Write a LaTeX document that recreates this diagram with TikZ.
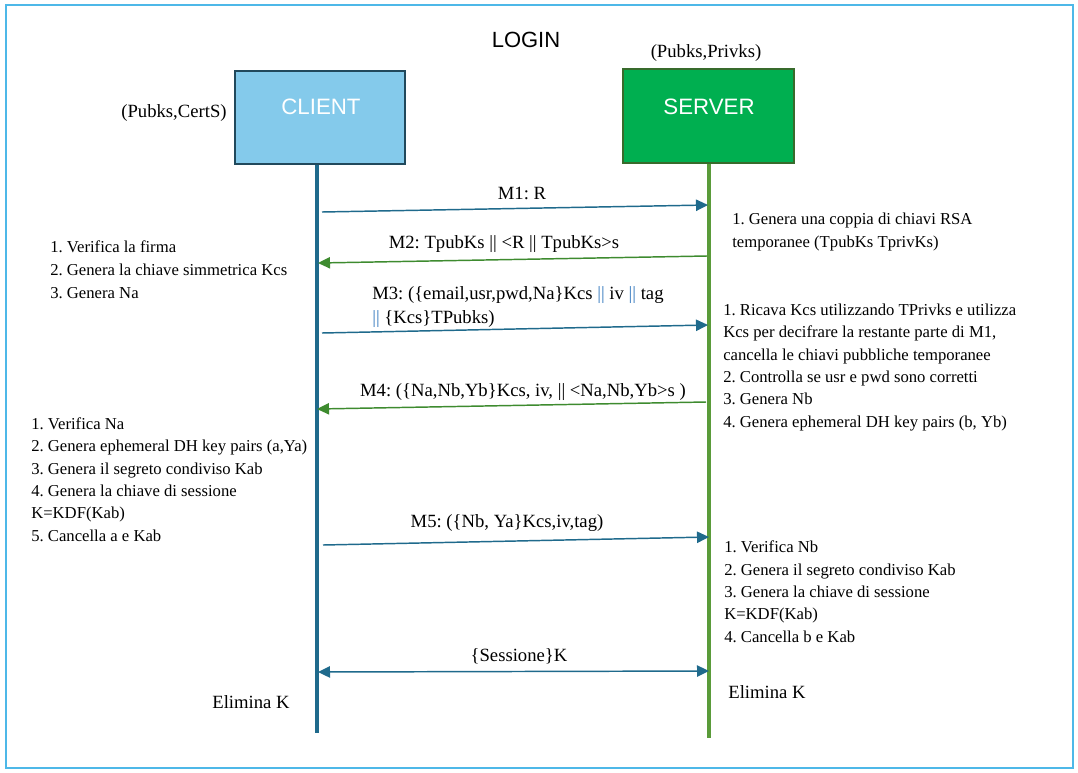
\documentclass[tikz,border=0pt]{standalone}
\usepackage{fontspec}
\setmainfont{Liberation Serif}
\setsansfont{Liberation Sans}
\usetikzlibrary{arrows.meta}
\frenchspacing
\definecolor{frameblue}{HTML}{4DB8E8}
\definecolor{clientfill}{HTML}{84CAEB}
\definecolor{clientdraw}{HTML}{21495C}
\definecolor{serverfill}{HTML}{00AF50}
\definecolor{serverdraw}{HTML}{386B2C}
\definecolor{clientline}{HTML}{1F6A8C}
\definecolor{serverline}{HTML}{5A9B3A}
\definecolor{msgblue}{HTML}{1F6A8C}
\definecolor{msggreen}{HTML}{3E8B2F}
\definecolor{pipeblue}{HTML}{3A7CC0}
\newcommand{\pp}{\textcolor{pipeblue}{||}}
\begin{document}
\begin{tikzpicture}[x=0.75pt,y=-0.75pt,
  actorbox/.style={draw, line width=1.5pt, minimum width=127.5pt, minimum height=70pt, inner sep=0pt},
  actortext/.style={font=\sffamily\fontsize{16.7}{19}\selectfont, text=white, inner sep=0pt},
  titletext/.style={font=\sffamily\fontsize{16.5}{19}\selectfont, inner sep=0pt},
  msglabel/.style={font=\fontsize{14}{18}\selectfont, inner sep=0pt},
  notes/.style={font=\fontsize{12.5}{16.7}\selectfont, align=left, anchor=base west, inner sep=0pt},
  clientlife/.style={draw=clientline, line width=3pt},
  serverlife/.style={draw=serverline, line width=2.6pt},
  tohead/.style={-{Triangle[length=9pt,width=8.5pt]}},
  bluemsg/.style={draw=msgblue, line width=1.1pt, tohead},
  greenmsg/.style={draw=msggreen, line width=1.1pt, tohead},
]
\useasboundingbox (0,0) rectangle (1078,772);
\draw[frameblue, line width=2.2pt] (6,5) rectangle (1073,768);

\node[titletext] (login) at (526,40) {LOGIN};

% actors
\node[actorbox, fill=clientfill, draw=clientdraw] (client) at (320,117.5) {};
\node[actortext] (clientlabel) at (321,107) {CLIENT};
\node[actorbox, fill=serverfill, draw=serverdraw, minimum width=128pt, minimum height=70.5pt] (server) at (708.5,116) {};
\node[actortext] (serverlabel) at (709,107) {SERVER};
\node[msglabel] (ckeys) at (174,113) {(Pubks,CertS)};
\node[msglabel] (skeys) at (706,53) {(Pubks,Privks)};

% lifelines
\coordinate (cbot) at (317,733);
\coordinate (sbot) at (709,738);
\draw[clientlife] (client.south -| cbot) -- (cbot);
\draw[serverlife] (server.south -| sbot) -- (sbot);

% message end points
\coordinate (m1a) at (322,212); \coordinate (m1b) at (708,205);
\coordinate (m2a) at (707,256); \coordinate (m2b) at (318,263);
\coordinate (m3a) at (322,333); \coordinate (m3b) at (708,325);
\coordinate (m4a) at (706,402); \coordinate (m4b) at (317,409);
\coordinate (m5a) at (323,545); \coordinate (m5b) at (709,537);
\coordinate (ska) at (318,672); \coordinate (skb) at (709,671);

\draw[bluemsg] (m1a) -- (m1b);
\draw[greenmsg] (m2a) -- (m2b);
\draw[bluemsg] (m3a) -- (m3b);
\draw[greenmsg] (m4a) -- (m4b);
\draw[bluemsg] (m5a) -- (m5b);
\draw[draw=msgblue, line width=1.1pt, {Triangle[length=9pt,width=8.5pt]}-{Triangle[length=9pt,width=8.5pt]}] (ska) -- (skb);

% message labels
\node[msglabel] (l1) at (522,193) {M1: R};
\node[msglabel] (l2) at (504,244) {M2: TpubKs || <R || TpubKs>s};
\node[msglabel, align=left, anchor=base west, font=\fontsize{14}{18}\selectfont] (l3) at (372,323)
  {M3: (\{email,usr,pwd,Na\}Kcs \pp{} iv \pp{} tag\\ \pp{} \{Kcs\}TPubks)};
\node[msglabel] (l4) at (523,392) {M4: (\{Na,Nb,Yb\}Kcs, iv, || <Na,Nb,Yb>s )};
\node[msglabel] (l5) at (507,523) {M5: (\{Nb, Ya\}Kcs,iv,tag)};
\node[msglabel] (l6) at (519,656) {\{Sessione\}K};

% notes (anchored at the baseline of their last line)
\node[notes, font=\fontsize{12.5}{17.25}\selectfont] (lb1) at (50,298)
  {1. Verifica la firma\\2. Genera la chiave simmetrica Kcs\\3. Genera Na};
\node[notes] (lb2) at (31,541)
  {1. Verifica Na\\2. Genera ephemeral DH key pairs (a,Ya)\\3. Genera il segreto condiviso Kab\\4. Genera la chiave di sessione\\K=KDF(Kab)\\5. Cancella a e Kab};
\node[notes] (rb1) at (732,247)
  {1. Genera una coppia di chiavi RSA\\temporanee (TpubKs TprivKs)};
\node[notes] (rb2) at (723,427)
  {1. Ricava Kcs utilizzando TPrivks e utilizza\\Kcs per decifrare la restante parte di M1,\\cancella le chiavi pubbliche temporanee\\2. Controlla se usr e pwd sono corretti\\3. Genera Nb\\4. Genera ephemeral DH key pairs (b, Yb)};
\node[notes] (rb3) at (724,642)
  {1. Verifica Nb\\2. Genera il segreto condiviso Kab\\3. Genera la chiave di sessione\\K=KDF(Kab)\\4. Cancella b e Kab};

\node[msglabel] (elc) at (251,702) {Elimina K};
\node[msglabel] (els) at (767,692) {Elimina K};
\end{tikzpicture}
\end{document}
